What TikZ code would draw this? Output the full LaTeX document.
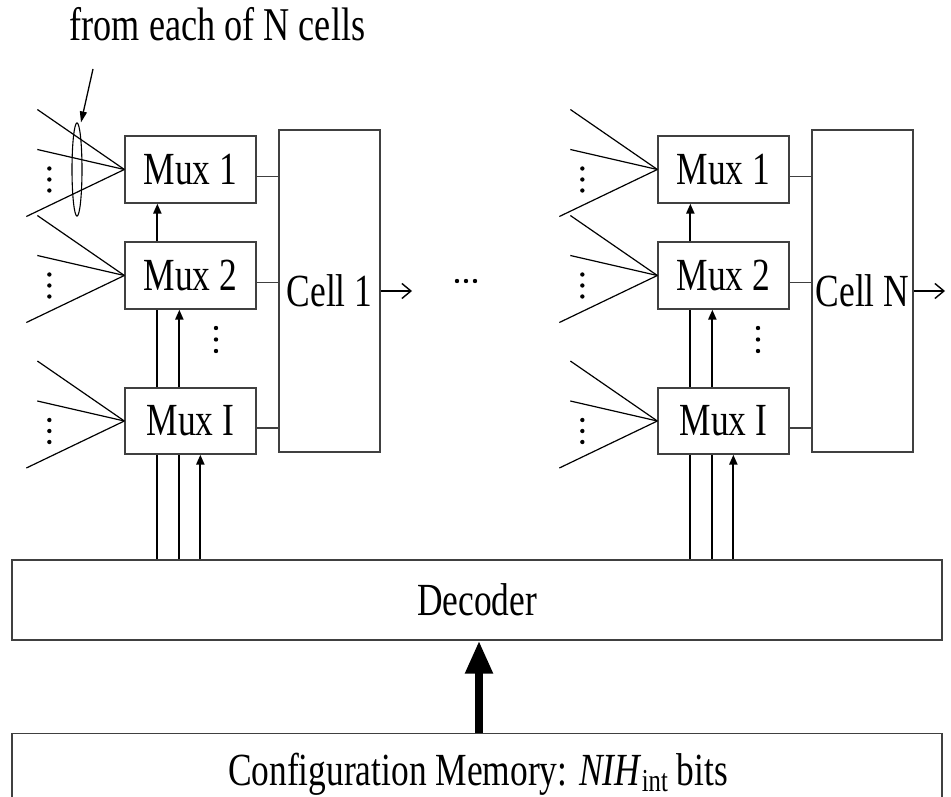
\documentclass[tikz,border=0pt]{standalone}
\usepackage{fontspec}
\setmainfont{Liberation Serif}[FakeStretch=0.77]
\usetikzlibrary{arrows.meta,shapes.geometric,calc}
\newcommand\myfan[1]{%
  \draw[fan] ($(#1.west)+(-87,-60)$) -- (#1.west);
  \draw[fan] ($(#1.west)+(-87,-20)$) -- (#1.west);
  \draw[fan] ($(#1.west)+(-98,47)$) -- (#1.west);
  \foreach \dy in {-1,10,21} \fill ($(#1.west)+(-75,\dy)$) circle (2.2pt);
}
\begin{document}
\begin{tikzpicture}[x=1pt,y=-1pt,
  box/.style={draw=black!75, line width=1.3pt, fill=white, inner sep=0pt,
    font=\fontsize{46}{50}\selectfont},
  mux/.style={box, minimum width=131pt, minimum height=67pt},
  cell/.style={box, minimum width=101pt, minimum height=322pt},
  wide/.style={box, minimum width=930pt},
  lbl/.style={inner sep=0pt, font=\fontsize{46}{50}\selectfont},
  fan/.style={line width=1.2pt},
  link/.style={draw=black!75, line width=1.3pt},
  bus/.style={line width=2.2pt},
  busarrow/.style={bus, -{Triangle[length=10pt,width=8pt]}},
  outarrow/.style={line width=1.4pt, -{Straight Barb[length=9pt,width=15pt]}},
]
\useasboundingbox (0,0) rectangle (951,797);

\node[lbl, anchor=base, font=\fontsize{47}{50}\selectfont] (title) at (217.5,41) {from each of N cells};

\node[wide, minimum height=80pt] (dec) at (477,600) {Decoder};
\node[wide, minimum height=90pt, anchor=north] (cfg) at (477,733) {};
\node[lbl, anchor=base] (cfgt) at (478,785)
  {Configuration Memory: \textit{NIH}\raisebox{-0.14em}{\fontsize{32}{32}\selectfont int} bits};
\draw[line width=8pt, -{Triangle[length=33pt,width=26pt]}]
  ([xshift=2pt]cfg.north) -- ([xshift=2pt]dec.south);

\foreach \g/\dx/\cn/\vd in {L/0/1/216, R/533/N/225} {
\begin{scope}[xshift=\dx pt]
  \node[mux] (m1\g) at (190.5,169.5) {Mux 1};
  \node[mux] (m2\g) at (190.5,275.5) {Mux 2};
  \node[mux, minimum height=66pt] (mI\g) at (190.5,421) {Mux I};
  \node[cell] (c\g) at (329.5,291) {Cell \cn};
  \coordinate (o\g) at (412,291);
  \draw[outarrow] (c\g.east) -- (o\g);
  \foreach \m in {m1,m2,mI} {
    \coordinate (t\m\g) at ([yshift=-7pt]\m\g.east);
    \draw[link] (t\m\g) -- (t\m\g -| c\g.west);
    \myfan{\m\g}
  }
  \coordinate (b1\g) at ([xshift=33pt]mI\g.south west);
  \coordinate (b2\g) at ([xshift=55pt]mI\g.south west);
  \coordinate (b3\g) at ([xshift=76pt]mI\g.south west);
  \draw[bus] (b1\g |- dec.north) -- (b1\g);
  \draw[bus] (b2\g |- dec.north) -- (b2\g);
  \draw[busarrow] (b3\g |- dec.north) -- (b3\g);
  \draw[bus] (b1\g |- mI\g.north) -- (b1\g |- m2\g.south);
  \draw[busarrow] (b2\g |- mI\g.north) -- (b2\g |- m2\g.south);
  \draw[busarrow] (b1\g |- m2\g.north) -- (b1\g |- m1\g.south);
  \foreach \yy in {328,339.5,351} \fill (\vd,\yy) circle (2.2pt);
\end{scope}
}

\foreach \xx in {457,466,475} \fill (\xx,281) circle (2.2pt);

\node[ellipse, draw, line width=1.1pt, minimum width=10pt, minimum height=93pt,
  inner sep=0pt] (ell) at (77,169.5) {};
\coordinate (ellsrc) at (93,69);
\draw[line width=1.3pt, -{Triangle[length=11pt,width=7pt]}]
  (ellsrc) -- ([xshift=4pt]ell.north);
\end{tikzpicture}
\end{document}
